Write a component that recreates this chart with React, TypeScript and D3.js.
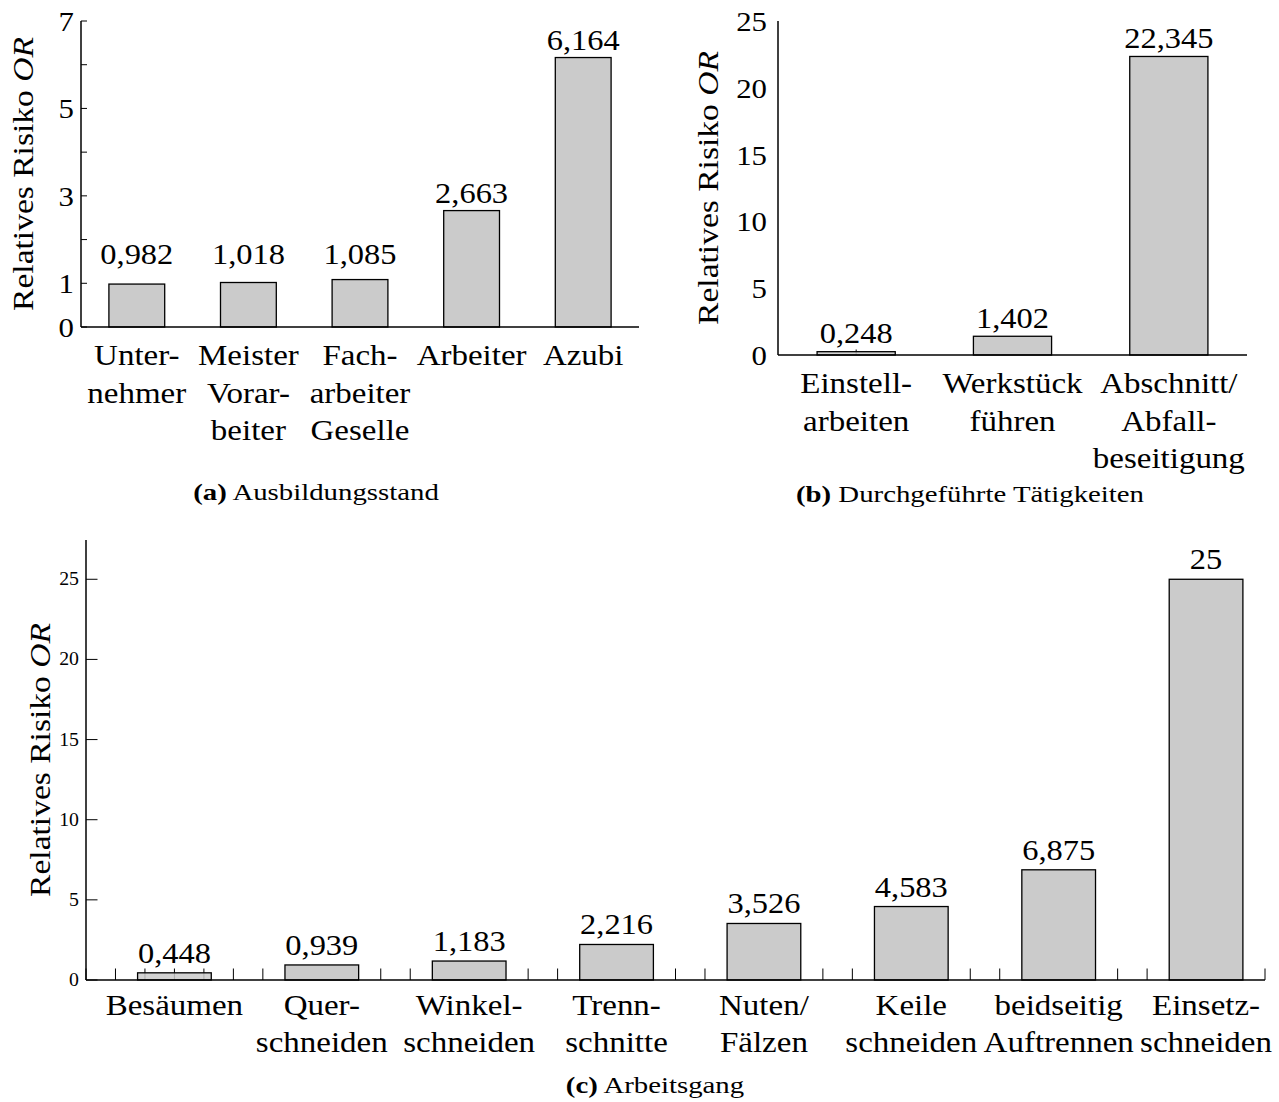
import React from "react";
import * as d3 from "d3";

// ---- data ----
const catsA: string[][] = [
  ["Unter-", "nehmer"],
  ["Meister", "Vorar-", "beiter"],
  ["Fach-", "arbeiter", "Geselle"],
  ["Arbeiter"],
  ["Azubi"],
];
const valsA: number[] = [0.982, 1.018, 1.085, 2.663, 6.164];
const ticksA: number[] = [0, 1, 2, 3, 4, 5, 6, 7];
const tickLabelsA: number[] = [0, 1, 3, 5, 7];

const catsB: string[][] = [
  ["Einstell-", "arbeiten"],
  ["Werkstück", "führen"],
  ["Abschnitt/", "Abfall-", "beseitigung"],
];
const valsB: number[] = [0.248, 1.402, 22.345];
const ticksB: number[] = [0, 5, 10, 15, 20, 25];

const catsC: string[][] = [
  ["Besäumen"],
  ["Quer-", "schneiden"],
  ["Winkel-", "schneiden"],
  ["Trenn-", "schnitte"],
  ["Nuten/", "Fälzen"],
  ["Keile", "schneiden"],
  ["beidseitig", "Auftrennen"],
  ["Einsetz-", "schneiden"],
];
const valsC: number[] = [0.448, 0.939, 1.183, 2.216, 3.526, 4.583, 6.875, 25];
const ticksC: number[] = [0, 5, 10, 15, 20, 25];

const captions = [
  { tag: "(a)", text: "Ausbildungsstand" },
  { tag: "(b)", text: "Durchgeführte Tätigkeiten" },
  { tag: "(c)", text: "Arbeitsgang" },
];

// ---- styling ----
const FONT = "'Liberation Serif', 'Times New Roman', serif";
const BAR_FILL = "#cbcbcb";
const SX = 1.1;
const CAT_SIZE = 30;

const fmt = (v: number) =>
  Number.isInteger(v) ? String(v) : v.toFixed(3).replace(".", ",");

function T({
  x,
  y,
  size,
  anchor = "middle",
  sx = SX,
  weight,
  children,
}: {
  x: number;
  y: number;
  size: number;
  anchor?: string;
  sx?: number;
  weight?: string;
  children: React.ReactNode;
}) {
  return (
    <text
      transform={`translate(${x},${y}) scale(${sx},1)`}
      fontSize={size}
      textAnchor={anchor}
      fontFamily={FONT}
      fontWeight={weight}
      fill="#000"
    >
      {children}
    </text>
  );
}

function YLabel({ x, y, size }: { x: number; y: number; size: number }) {
  return (
    <text
      transform={`translate(${x},${y}) rotate(-90) scale(${SX},1)`}
      fontSize={size}
      textAnchor="middle"
      fontFamily={FONT}
      fill="#000"
    >
      Relatives Risiko <tspan fontStyle="italic">OR</tspan>
    </text>
  );
}

function Caption({ x, y, idx }: { x: number; y: number; idx: number }) {
  const c = captions[idx];
  return (
    <text
      transform={`translate(${x},${y}) scale(1.2,1)`}
      fontSize={24}
      textAnchor="middle"
      fontFamily={FONT}
      fill="#000"
    >
      <tspan fontWeight="bold">{c.tag}</tspan> {c.text}
    </text>
  );
}

function CatLabel({
  x,
  y,
  lines,
  size,
  lh,
}: {
  x: number;
  y: number;
  lines: string[];
  size: number;
  lh: number;
}) {
  return (
    <>
      {lines.map((l, i) => (
        <T key={i} x={x} y={y + i * lh} size={size}>
          {l}
        </T>
      ))}
    </>
  );
}

export default function App() {
  // Panel (a): training level
  const xA = d3
    .scaleBand<number>()
    .domain(valsA.map((_, i) => i))
    .range([81, 639])
    .paddingInner(0.5)
    .paddingOuter(0.25);
  const yA = d3.scaleLinear().domain([0, 7]).range([327, 21]);
  const labelFloorA = 1.25;

  // Panel (b): activities
  const xB = d3
    .scaleBand<number>()
    .domain(valsB.map((_, i) => i))
    .range([778, 1247])
    .paddingInner(0.5)
    .paddingOuter(0.25);
  const yB = d3.scaleLinear().domain([0, 25]).range([355, 21]);

  // Panel (c): operation, on a fine unit grid with a tick per unit
  const xC = d3.scaleLinear().domain([0, 40]).range([86, 1265]);
  const gridC = d3.range(0, 41);
  const centerC = (i: number) => xC(3 + 5 * i);
  const bwC = xC(2.5) - xC(0);
  const yC = d3.scaleLinear().domain([0, 27.45]).range([980, 540]);

  const axisStroke = 1.5;
  const barStroke = 1.3;

  return (
    <svg
      width={1279}
      height={1102}
      style={{ position: "absolute", left: 0, top: 0, background: "#fff" }}
    >
      <rect width={1279} height={1102} fill="#fff" />

      {/* ---------- (a) ---------- */}
      <g>
        {ticksA.map((t) => (
          <line
            key={t}
            x1={xA.range()[0]}
            x2={xA.range()[0] + 6}
            y1={yA(t)}
            y2={yA(t)}
            stroke="#000"
            strokeWidth={1}
          />
        ))}
        {valsA.map((v, i) => (
          <rect
            key={i}
            x={xA(i)!}
            y={yA(v)}
            width={xA.bandwidth()}
            height={yA(0) - yA(v)}
            fill={BAR_FILL}
            stroke="#000"
            strokeWidth={barStroke}
          />
        ))}
        <line x1={81} x2={81} y1={yA(7)} y2={yA(0)} stroke="#000" strokeWidth={axisStroke} />
        <line x1={81} x2={639} y1={yA(0)} y2={yA(0)} stroke="#000" strokeWidth={axisStroke} />
        {tickLabelsA.map((t) => (
          <T key={t} x={74} y={yA(t) + 10} size={28} anchor="end">
            {t}
          </T>
        ))}
        {valsA.map((v, i) => (
          <T
            key={i}
            x={xA(i)! + xA.bandwidth() / 2}
            y={yA(Math.max(v, labelFloorA)) - 8}
            size={29.5}
          >
            {fmt(v)}
          </T>
        ))}
        {catsA.map((c, i) => (
          <CatLabel
            key={i}
            x={xA(i)! + xA.bandwidth() / 2}
            y={yA(0) + 38}
            lines={c}
            size={CAT_SIZE}
            lh={37.5}
          />
        ))}
        <YLabel x={33} y={(yA(0) + yA(7)) / 2} size={30.5} />
        <Caption x={316} y={500} idx={0} />
      </g>

      {/* ---------- (b) ---------- */}
      <g>
        {valsB.map((_, i) => (
          <line
            key={i}
            x1={xB(i)! + xB.bandwidth() / 2}
            x2={xB(i)! + xB.bandwidth() / 2}
            y1={yB(0)}
            y2={yB(0) - 5.5}
            stroke="#000"
            strokeWidth={1}
          />
        ))}
        {valsB.map((v, i) => (
          <rect
            key={i}
            x={xB(i)!}
            y={yB(v)}
            width={xB.bandwidth()}
            height={yB(0) - yB(v)}
            fill={BAR_FILL}
            stroke="#000"
            strokeWidth={barStroke}
            fillOpacity={v < 1 ? 0.85 : 1}
          />
        ))}
        <line x1={778} x2={778} y1={yB(25)} y2={yB(0)} stroke="#000" strokeWidth={axisStroke} />
        <line x1={778} x2={1247} y1={yB(0)} y2={yB(0)} stroke="#000" strokeWidth={axisStroke} />
        {ticksB.map((t) => (
          <T key={t} x={767} y={yB(t) + 10} size={28} anchor="end">
            {t}
          </T>
        ))}
        {valsB.map((v, i) => (
          <T key={i} x={xB(i)! + xB.bandwidth() / 2} y={yB(v) - 8.5} size={29.5}>
            {fmt(v)}
          </T>
        ))}
        {catsB.map((c, i) => (
          <CatLabel
            key={i}
            x={xB(i)! + xB.bandwidth() / 2}
            y={yB(0) + 38}
            lines={c}
            size={CAT_SIZE}
            lh={37.5}
          />
        ))}
        <YLabel x={718} y={(yB(0) + yB(25)) / 2} size={30.5} />
        <Caption x={970} y={502} idx={1} />
      </g>

      {/* ---------- (c) ---------- */}
      <g>
        {gridC.map((g) => (
          <line
            key={g}
            x1={xC(g)}
            x2={xC(g)}
            y1={yC(0)}
            y2={yC(0) - 11.5}
            stroke="#000"
            strokeWidth={1}
          />
        ))}
        {ticksC.map((t) => (
          <line
            key={t}
            x1={86}
            x2={86 + 11.5}
            y1={yC(t)}
            y2={yC(t)}
            stroke="#000"
            strokeWidth={1}
          />
        ))}
        {valsC.map((v, i) => (
          <rect
            key={i}
            x={centerC(i) - bwC / 2}
            y={yC(v)}
            width={bwC}
            height={yC(0) - yC(v)}
            fill={BAR_FILL}
            stroke="#000"
            strokeWidth={barStroke}
            fillOpacity={v < 0.7 ? 0.85 : 1}
          />
        ))}
        <line x1={86} x2={86} y1={yC(27.45)} y2={yC(0)} stroke="#000" strokeWidth={axisStroke} />
        <line x1={86} x2={1265} y1={yC(0)} y2={yC(0)} stroke="#000" strokeWidth={axisStroke} />
        {ticksC.map((t) => (
          <T key={t} x={79} y={yC(t) + 6} size={18} anchor="end">
            {t}
          </T>
        ))}
        {valsC.map((v, i) => (
          <T key={i} x={centerC(i)} y={yC(v) - 10} size={29.5}>
            {fmt(v)}
          </T>
        ))}
        {catsC.map((c, i) => (
          <CatLabel key={i} x={centerC(i)} y={yC(0) + 35} lines={c} size={CAT_SIZE} lh={37} />
        ))}
        <YLabel x={50} y={(yC(0) + yC(27.45)) / 2} size={30.5} />
        <Caption x={655} y={1093} idx={2} />
      </g>
    </svg>
  );
}
